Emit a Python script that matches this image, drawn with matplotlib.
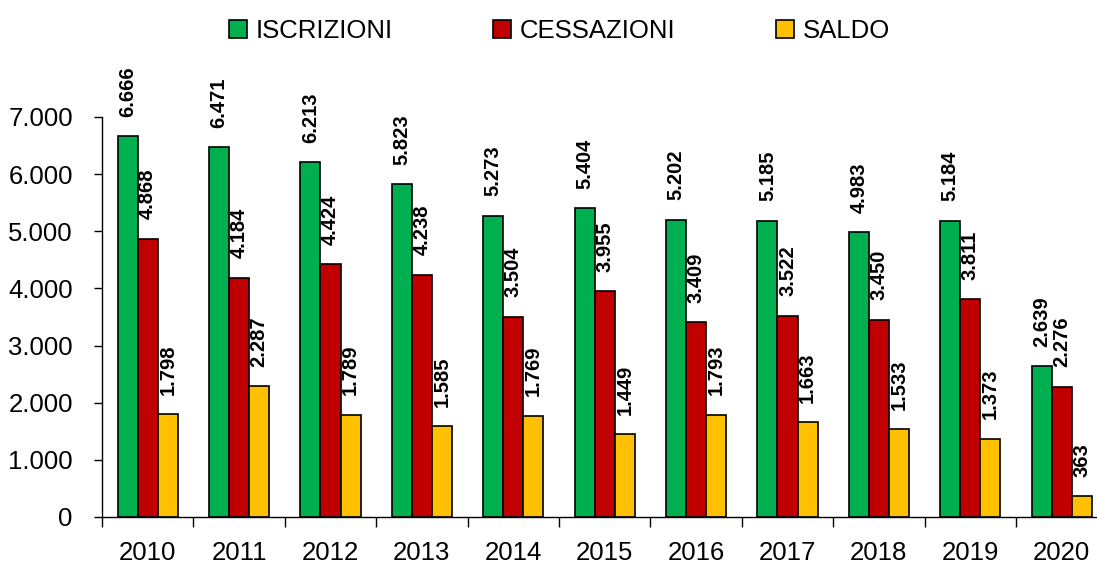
import numpy as np
import matplotlib
matplotlib.use("Agg")
import matplotlib.pyplot as plt
from matplotlib.ticker import FuncFormatter, FixedLocator

plt.rcParams['font.family'] = ['Liberation Sans', 'DejaVu Sans']

years = ['2010', '2011', '2012', '2013', '2014', '2015', '2016', '2017', '2018', '2019', '2020']
iscrizioni = [6666, 6471, 6213, 5823, 5273, 5404, 5202, 5185, 4983, 5184, 2639]
cessazioni = [4868, 4184, 4424, 4238, 3504, 3955, 3409, 3522, 3450, 3811, 2276]
saldo = [1798, 2287, 1789, 1585, 1769, 1449, 1793, 1663, 1533, 1373, 363]

series = [('ISCRIZIONI', iscrizioni, '#00B050'),
          ('CESSAZIONI', cessazioni, '#C00000'),
          ('SALDO', saldo, '#FFC000')]


def it_fmt(v):
    return f"{int(v):,}".replace(",", ".")


fig = plt.figure(figsize=(10.97, 5.68), dpi=100)
ax = fig.add_axes([102 / 1097, 1 - 517 / 568, 1 - 102 / 1097, 400 / 568])

x = np.arange(len(years))
w = 0.22
for i, (name, vals, col) in enumerate(series):
    pos = x + (i - 1) * w
    ax.bar(pos, vals, width=w, color=col, edgecolor='black', linewidth=1.2, label=name)
    for px, v in zip(pos, vals):
        ax.annotate(it_fmt(v), (px, v), xytext=(0, 14), textcoords='offset points',
                    rotation=90, ha='center', va='bottom', fontsize=14.5,
                    fontweight='bold', annotation_clip=False)

ax.set_ylim(0, 7000)
ax.set_xlim(-0.5, (1097 - 102) / 91.4 - 0.5)
ax.set_yticks(np.arange(0, 7001, 1000))
ax.yaxis.set_major_formatter(FuncFormatter(lambda v, p: it_fmt(v)))
ax.set_xticks(x)
ax.set_xticklabels(years)
ax.xaxis.set_minor_locator(FixedLocator(np.arange(-0.5, len(years), 1.0)))

for s in ['top', 'right']:
    ax.spines[s].set_visible(False)
for s in ['left', 'bottom']:
    ax.spines[s].set_color('black')
    ax.spines[s].set_linewidth(1.0)

ax.tick_params(axis='y', length=6, width=1, pad=15, labelsize=18.5)
ax.tick_params(axis='x', which='major', length=0, pad=17, labelsize=18.5)
ax.tick_params(axis='x', which='minor', length=7, width=1)

fig.legend(loc='center', bbox_to_anchor=(0.51, 0.945), ncol=3, frameon=False,
           fontsize=18.5, handlelength=0.7, handleheight=0.7, handletextpad=0.35,
           columnspacing=3.9)

fig.savefig('out.png', dpi=100)
